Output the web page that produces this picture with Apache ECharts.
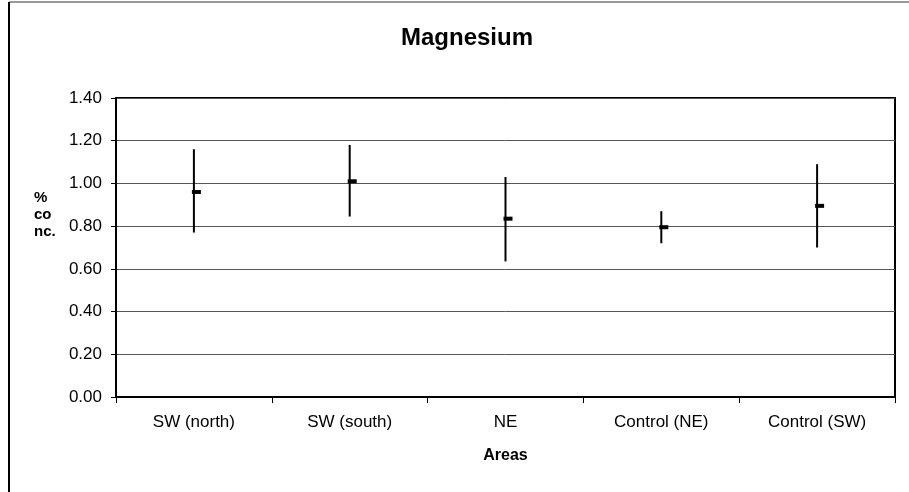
<!DOCTYPE html>
<html>
<head>
<meta charset="utf-8">
<script src="https://cdn.jsdelivr.net/npm/echarts@6/dist/echarts.min.js"></script>
<style>
  html, body { margin: 0; padding: 0; background: #fff; }
  #chart { width: 909px; height: 492px; }
</style>
</head>
<body>
<div id="chart"></div>
<script>
// areas and the values
var areas = ["SW (north)", "SW (south)", "NE", "Control (NE)", "Control (SW)"];
var highs = [1.16, 1.18, 1.03, 0.87, 1.09];
var lows  = [0.77, 0.845, 0.635, 0.72, 0.70];
var means = [0.96, 1.01, 0.835, 0.795, 0.895];

var font = "Liberation Sans, Arial, sans-serif";

var barData = [];
for (var i = 0; i < areas.length; i++) {
  barData.push([i, lows[i], highs[i], means[i]]);
}

var myChart = echarts.init(document.getElementById("chart"));
myChart.setOption({
  animation: false,
  title: {
    text: "Magnesium",
    left: 462,
    textAlign: "center",
    top: 21,
    textStyle: { fontFamily: font, fontSize: 24, fontWeight: "bold", color: "#000" }
  },
  grid: { left: 116, right: 14, top: 98, bottom: 95, show: true, borderColor: "#000", borderWidth: 2 },
  xAxis: {
    type: "category",
    data: areas,
    name: "Areas",
    nameLocation: "middle",
    nameGap: 51,
    nameTextStyle: { fontFamily: font, fontSize: 16, fontWeight: "bold", color: "#000" },
    axisLine: { lineStyle: { color: "#000", width: 2 } },
    axisTick: { show: true, length: 6, lineStyle: { color: "#000" } },
    axisLabel: { fontFamily: font, fontSize: 17, color: "#000", margin: 17 }
  },
  yAxis: {
    type: "value",
    min: 0,
    max: 1.4,
    interval: 0.2,
    axisLine: { show: true, lineStyle: { color: "#000", width: 2 } },
    axisTick: { show: true, length: 5, lineStyle: { color: "#000" } },
    axisLabel: {
      fontFamily: font, fontSize: 17, color: "#000", margin: 14,
      formatter: function (v) { return v.toFixed(2); }
    },
    splitLine: { show: true, lineStyle: { color: "#555", width: 1 } }
  },
  graphic: [
    { type: "line", shape: { x1: 9, y1: 2, x2: 909, y2: 2 }, style: { stroke: "#333", lineWidth: 1 } },
    { type: "line", shape: { x1: 9, y1: 2, x2: 9, y2: 492 }, style: { stroke: "#000", lineWidth: 2 } },
    {
      type: "text", left: 34, top: 189,
      style: { text: "%\nco\nnc.", fontFamily: font, fontSize: 15, fontWeight: "bold", fill: "#000", lineHeight: 17 }
    }
  ],
  series: [{
    type: "custom",
    data: barData,
    encode: { x: 0, y: [1, 2, 3] },
    renderItem: function (params, api) {
      var lo = api.coord([api.value(0), api.value(1)]);
      var hi = api.coord([api.value(0), api.value(2)]);
      var mn = api.coord([api.value(0), api.value(3)]);
      return {
        type: "group",
        children: [
          {
            type: "line",
            shape: { x1: lo[0], y1: lo[1], x2: hi[0], y2: hi[1] },
            style: { stroke: "#000", lineWidth: 2 }
          },
          {
            type: "rect",
            shape: { x: mn[0] - 2, y: mn[1] - 2, width: 9, height: 4 },
            style: { fill: "#000" }
          }
        ]
      };
    }
  }]
});
</script>
</body>
</html>
